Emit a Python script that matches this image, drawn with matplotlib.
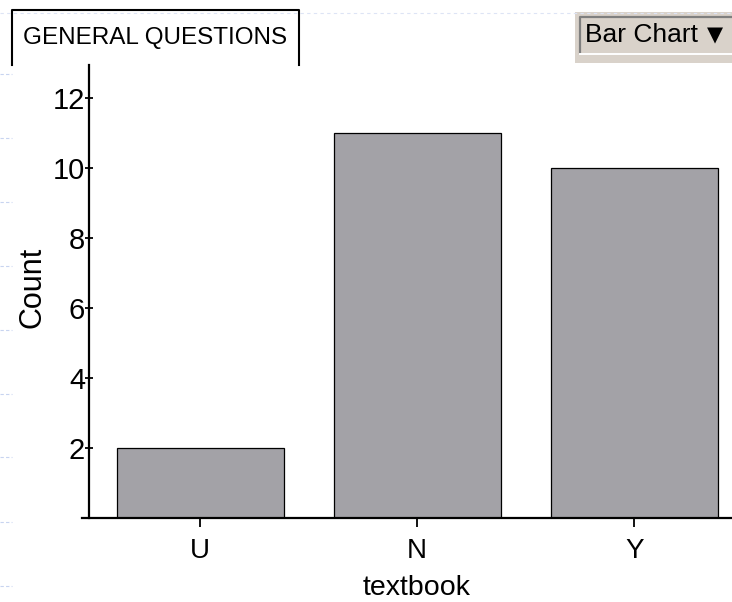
import matplotlib
matplotlib.use("Agg")
import matplotlib.pyplot as plt
from matplotlib.lines import Line2D
from matplotlib.patches import Rectangle

# data
categories = ["U", "N", "Y"]
counts = [2, 11, 10]
y_ticks = [2, 4, 6, 8, 10, 12]
title = "GENERAL QUESTIONS"
x_label = "textbook"
y_label = "Count"
menu_label = "Bar Chart"

W, H = 732, 602
plt.rcParams["font.family"] = ["Liberation Sans", "DejaVu Sans"]

fig = plt.figure(figsize=(W / 100, H / 100), dpi=100)
fig.patch.set_facecolor("white")


def fx(px):
    return px / W


def fy(py):
    return 1 - py / H


# faint slide guides in the margin
for gy in [74, 138, 202, 266, 330, 394, 457, 522, 586]:
    fig.add_artist(Line2D([fx(0), fx(12)], [fy(gy), fy(gy)], color="#c8d4f0",
                          lw=0.8, ls=(0, (3, 2))))
fig.add_artist(Line2D([fx(0), fx(W)], [fy(13), fy(13)], color="#dde4f5",
                      lw=0.8, ls=(0, (3, 3))))

ax = fig.add_axes([fx(82), fy(518), 1 - fx(82), fy(65) - fy(518)])
x = list(range(len(categories)))
ax.bar(x, counts, width=0.77, color="#a3a2a7", edgecolor="black", linewidth=0.9)

ax.set_xlim(-0.544, 2.45)
ax.set_ylim(0, 12.94)
ax.spines["top"].set_visible(False)
ax.spines["right"].set_visible(False)
ax.spines["left"].set_position(("data", -0.51))
for s in ("left", "bottom"):
    ax.spines[s].set_linewidth(1.6)

ax.set_xticks(x)
ax.set_xticklabels(categories)
ax.set_yticks(y_ticks)
ax.tick_params(axis="y", direction="inout", length=6, width=1.3, labelsize=21, pad=0)
ax.tick_params(axis="x", direction="out", length=6.5, width=1.3, labelsize=20, pad=8)
ax.set_xlabel(x_label, fontsize=20.5)
ax.xaxis.set_label_coords(0.515, -0.125)
ax.set_ylabel(y_label, fontsize=22)
ax.yaxis.set_label_coords(-0.053, 0.51)

# title tab
tab = [(12, 65), (12, 10), (299, 10), (299, 65)]
fig.add_artist(Line2D([fx(p[0]) for p in tab], [fy(p[1]) for p in tab],
                      color="black", lw=1.5))
fig.text(fx(155), fy(38), title, fontsize=17.5, ha="center", va="center")

# menu button
fig.add_artist(Rectangle((fx(575), fy(63)), fx(W - 575), fy(12) - fy(63),
                         transform=fig.transFigure, facecolor="#d9d2ca",
                         edgecolor="none"))
fig.add_artist(Line2D([fx(580), fx(580), fx(W)], [fy(53), fy(17), fy(17)],
                      color="#7f7f7f", lw=1.6))
fig.add_artist(Line2D([fx(580), fx(W)], [fy(54), fy(54)], color="white", lw=1.4))
fig.text(fx(585), fy(35), menu_label, fontsize=19, ha="left", va="center")
fig.text(fx(715), fy(35), "\u25bc", fontsize=15, ha="center", va="center",
         family=["DejaVu Sans"])

fig.savefig("out.png", dpi=100)
